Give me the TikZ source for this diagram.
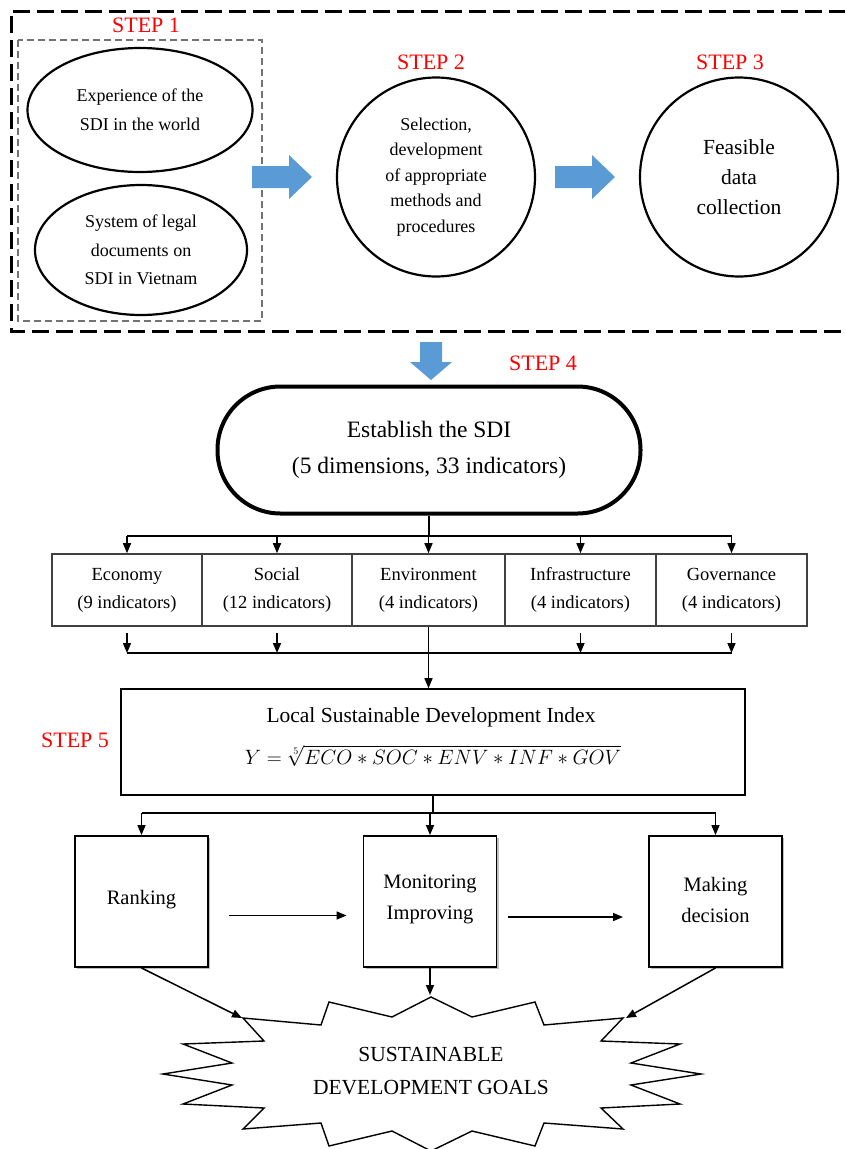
\documentclass[tikz,border=0pt]{standalone}
\usepackage{fontspec}
\setmainfont{Liberation Serif}
\usetikzlibrary{arrows.meta,shapes.geometric,shadows,calc}
\definecolor{arrowblue}{RGB}{91,155,213}
\definecolor{stepred}{RGB}{255,0,0}
\tikzset{
  every node/.style={align=center, inner sep=0pt},
  steplabel/.style={text=stepred, font=\fontsize{22}{24}\selectfont},
  ell/.style={draw, ellipse, line width=2.2pt},
  blockarrow/.style={fill=arrowblue, draw=none},
  arr/.style={-{Triangle[length=10pt,width=8pt]}, line width=1.5pt},
  conn/.style={line width=1.5pt},
  dimbox/.style={draw=black!75, line width=1.6pt, minimum height=72pt,
    font=\fontsize{18.5}{28}\selectfont},
  usebox/.style={draw, line width=1.9pt, minimum width=133pt, minimum height=131pt,
    fill=white, drop shadow={shadow xshift=2pt, shadow yshift=-2pt, fill=black, opacity=0.25}},
}
\begin{document}
\begin{tikzpicture}[x=1pt,y=-1pt]
\useasboundingbox (0,0) rectangle (845,1149);
\fill[white] (0,0) rectangle (845,1149);
\begin{scope}
\clip (0,0) rectangle (845,1149);
% outer dashed frame
\draw[line width=3pt, dash pattern=on 17pt off 7pt] (870,11) -- (11,11) -- (11,331) -- (870,331);
% STEP 1 dashed box
\draw[black!55, line width=1.4pt, dash pattern=on 7pt off 4pt] (18,40) rectangle (262,321);

\node[steplabel] (s1) at (146,25) {STEP 1};
\node[steplabel] (s2) at (431,62) {STEP 2};
\node[steplabel] (s3) at (730,62) {STEP 3};
\node[steplabel] (s4) at (543,363) {STEP 4};
\node[steplabel] (s5) at (75,740) {STEP 5};

\node[ell, minimum width=225pt, minimum height=124pt, font=\fontsize{18}{29}\selectfont] (e1) at (140,110)
  {Experience of the\\SDI in the world};
\node[ell, minimum width=212pt, minimum height=130pt, font=\fontsize{18}{28.5}\selectfont] (e2) at (141,250)
  {System of legal\\documents on\\SDI in Vietnam};
\node[ell, minimum width=198pt, minimum height=199pt, font=\fontsize{18}{25.5}\selectfont] (e3) at (436,177)
  {Selection,\\development\\of appropriate\\methods and\\procedures};
\node[ell, minimum width=198pt, minimum height=199pt, font=\fontsize{21.5}{30}\selectfont] (e4) at (739,177)
  {Feasible\\data\\collection};

% blue block arrows
\path[blockarrow] (252,166) -- (289,166) -- (289,155) -- (312,177) -- (289,199) -- (289,188) -- (252,188) -- cycle;
\path[blockarrow] (555,166) -- (592,166) -- (592,155) -- (615,177) -- (592,199) -- (592,188) -- (555,188) -- cycle;
\path[blockarrow] (420,342) -- (442,342) -- (442,362) -- (452,362) -- (431,380) -- (410,362) -- (420,362) -- cycle;

% STEP 4
\node[draw, line width=4pt, minimum width=423pt, minimum height=127pt, rounded corners=63pt,
  font=\fontsize{23.5}{36}\selectfont] (sdi) at (429,450)
  {Establish the SDI\\(5 dimensions, 33 indicators)};

\node[dimbox, minimum width=150pt] (eco) at (127,590) {Economy\\(9 indicators)};
\node[dimbox, minimum width=150pt] (soc) at (277,590) {Social\\(12 indicators)};
\node[dimbox, minimum width=153pt] (env) at (428.5,590) {Environment\\(4 indicators)};
\node[dimbox, minimum width=151pt] (inf) at (580.5,590) {Infrastructure\\(4 indicators)};
\node[dimbox, minimum width=151pt] (gov) at (731.5,590) {Governance\\(4 indicators)};

\coordinate (tbus) at (428,536);
\draw[conn] (sdi.south) -- (sdi.south |- tbus);
\draw[conn] (eco.north |- tbus) -- (gov.north |- tbus);
\foreach \b in {eco,soc,env,inf,gov} { \draw[arr] (\b.north |- tbus) -- (\b.north); }

\coordinate (bbus) at (428,653);
\draw[conn] (eco.south |- bbus) -- (gov.south |- bbus);
\foreach \b in {eco,soc,inf,gov} { \draw[arr] ($(\b.south)+(0,6)$) -- (\b.south |- bbus); }

% STEP 5
\node[draw, line width=1.6pt, minimum width=624pt, minimum height=106pt] (formula) at (433,742) {};
\node[font=\fontsize{21.5}{24}\selectfont] (lsdi) at (431,717) {Local Sustainable Development Index};
\node[font=\fontsize{20}{24}\selectfont] (eq) at (433,756)
  {$Y=\sqrt[5]{ECO\ast SOC\ast ENV\ast INF\ast GOV}$};
\draw[arr] (env.south) -- (env.south |- formula.north);

\coordinate (mbus) at (430,813);
\node[usebox] (rank) at (141.5,901.5) {};
\node[usebox] (mon) at (430,901.5) {};
\node[usebox] (mak) at (715.5,901.5) {};
\node[font=\fontsize{20.5}{31}\selectfont] (rankt) at (141.5,900) {Ranking};
\node[font=\fontsize{20.5}{31}\selectfont] (mont) at (430,899.5) {Monitoring\\Improving};
\node[font=\fontsize{20.5}{31}\selectfont] (makt) at (715.5,899.5) {Making\\decision};

\draw[conn] (formula.south) -- (formula.south |- mbus);
\draw[conn] (rank.north |- mbus) -- (mak.north |- mbus);
\foreach \b in {rank,mon,mak} { \draw[arr] (\b.north |- mbus) -- (\b.north); }

\draw[arr] ($(rank.east)+(20,14)$) -- ($(mon.west)+(-16,14)$);
\draw[arr] ($(mon.east)+(11,15.5)$) -- ($(mak.west)+(-25,15.5)$);

% star
\draw[line width=1.4pt, fill=white] (431,997) -- (472,1017) -- (535,1002) -- (544,1025) -- (623,1018) -- (601,1041)
  -- (680,1044) -- (631,1063) -- (701,1074) -- (631,1085) -- (680,1104) -- (601,1108) -- (623,1129)
  -- (544,1123) -- (535,1146) -- (472,1131) -- (431,1151) -- (392,1131) -- (329,1146) -- (321,1123)
  -- (243,1129) -- (264,1108) -- (183,1104) -- (232,1085) -- (163,1074) -- (232,1063) -- (183,1044)
  -- (264,1041) -- (243,1018) -- (321,1025) -- (329,1002) -- (392,1017) -- cycle;
\node[font=\fontsize{21.5}{33}\selectfont] (sdg) at (431,1071.5) {SUSTAINABLE\\DEVELOPMENT GOALS};
\coordinate (p1) at (242,1018);
\coordinate (p2) at (430,995);
\coordinate (p3) at (626,1018);
\draw[arr] (rank.south) -- (p1);
\draw[arr] (mon.south) -- (p2);
\draw[arr] (mak.south) -- (p3);
\end{scope}
\end{tikzpicture}
\end{document}
